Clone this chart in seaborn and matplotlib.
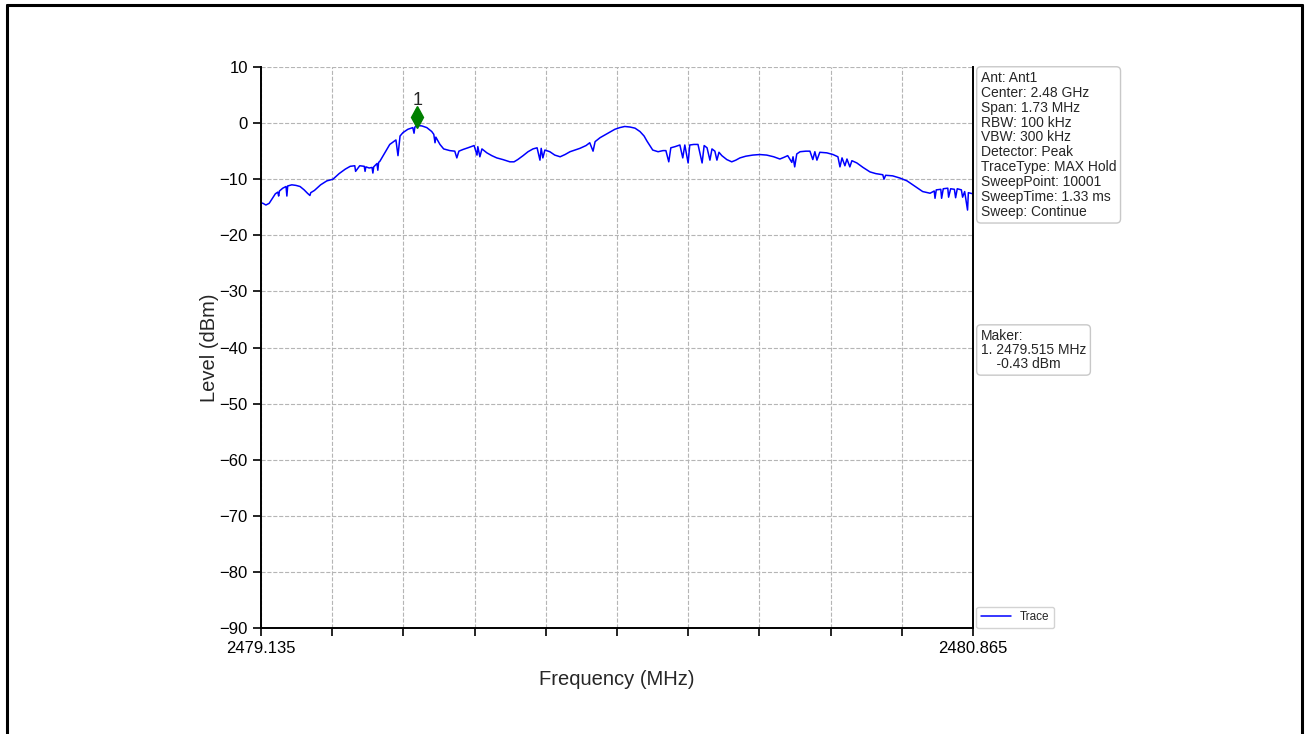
import matplotlib
matplotlib.use("Agg")
import matplotlib.pyplot as plt
import numpy as np
import pandas as pd
import seaborn as sns
from matplotlib.lines import Line2D

# trace (MHz, dBm)
freq_mhz = [
    2479.135, 2479.140, 2479.147, 2479.155, 2479.163, 2479.170, 2479.176, 2479.178, 2479.180,
    2479.188, 2479.196, 2479.198, 2479.200, 2479.210, 2479.220, 2479.230, 2479.240, 2479.248,
    2479.254, 2479.256, 2479.265, 2479.280, 2479.295, 2479.310, 2479.325, 2479.340, 2479.352,
    2479.363, 2479.365, 2479.375, 2479.386, 2479.388, 2479.390, 2479.398, 2479.405, 2479.407,
    2479.409, 2479.417, 2479.419, 2479.421, 2479.424, 2479.436, 2479.448, 2479.463, 2479.468,
    2479.473, 2479.480, 2479.492, 2479.504, 2479.507, 2479.509, 2479.515, 2479.526, 2479.538,
    2479.550, 2479.555, 2479.558, 2479.560, 2479.570, 2479.579, 2479.594, 2479.606, 2479.611,
    2479.616, 2479.626, 2479.638, 2479.653, 2479.660, 2479.662, 2479.667, 2479.672, 2479.684,
    2479.696, 2479.708, 2479.723, 2479.740, 2479.750, 2479.759, 2479.772, 2479.784, 2479.796,
    2479.806, 2479.813, 2479.816, 2479.820, 2479.825, 2479.837, 2479.849, 2479.862, 2479.874,
    2479.886, 2479.898, 2479.910, 2479.925, 2479.934, 2479.942, 2479.947, 2479.959, 2479.971,
    2479.983, 2479.995, 2480.007, 2480.019, 2480.032, 2480.044, 2480.056, 2480.066, 2480.073,
    2480.080, 2480.087, 2480.100, 2480.112, 2480.119, 2480.126, 2480.131, 2480.141, 2480.153,
    2480.160, 2480.165, 2480.173, 2480.177, 2480.187, 2480.197, 2480.207, 2480.212, 2480.219,
    2480.226, 2480.231, 2480.238, 2480.243, 2480.248, 2480.255, 2480.267, 2480.279, 2480.289,
    2480.299, 2480.313, 2480.330, 2480.347, 2480.364, 2480.381, 2480.396, 2480.406, 2480.415,
    2480.425, 2480.428, 2480.432, 2480.437, 2480.445, 2480.459, 2480.469, 2480.476, 2480.481,
    2480.486, 2480.493, 2480.510, 2480.525, 2480.537, 2480.542, 2480.547, 2480.554, 2480.559,
    2480.566, 2480.571, 2480.583, 2480.598, 2480.615, 2480.629, 2480.646, 2480.649, 2480.653,
    2480.670, 2480.688, 2480.705, 2480.719, 2480.731, 2480.743, 2480.761, 2480.771, 2480.773,
    2480.776, 2480.787, 2480.789, 2480.793, 2480.804, 2480.806, 2480.811, 2480.820, 2480.823,
    2480.827, 2480.837, 2480.840, 2480.845, 2480.852, 2480.854, 2480.865,
]
level_dbm = [
    -14.2, -14.3, -14.6, -14.3, -13.4, -12.6, -12.3, -13.0, -12.1,
    -11.6, -11.3, -13.0, -11.2, -11.0, -11.1, -11.3, -11.9, -12.5,
    -12.9, -12.4, -12.0, -11.0, -10.3, -10.0, -9.0, -8.2, -7.7,
    -7.6, -8.6, -7.6, -7.7, -8.6, -7.8, -8.0, -7.9, -8.9,
    -7.8, -7.2, -8.4, -7.0, -6.8, -5.3, -3.8, -3.0, -5.8,
    -2.3, -1.7, -1.1, -0.8, -1.8, -0.7, -0.43, -0.5, -0.8,
    -1.5, -2.0, -3.5, -2.5, -3.8, -4.6, -4.9, -5.0, -6.2,
    -5.0, -4.7, -4.4, -4.0, -5.7, -4.2, -6.0, -4.6, -5.3,
    -5.8, -6.2, -6.5, -6.9, -6.9, -6.5, -5.8, -5.1, -4.6,
    -4.4, -6.6, -4.5, -6.2, -4.8, -5.1, -5.7, -6.0, -5.6,
    -5.1, -4.8, -4.5, -4.0, -3.5, -5.0, -3.3, -2.6, -2.1,
    -1.6, -1.1, -0.8, -0.6, -0.7, -0.9, -1.5, -2.3, -3.2,
    -4.0, -4.8, -5.1, -4.9, -4.9, -6.9, -4.4, -4.2, -3.9,
    -6.2, -3.9, -7.1, -3.9, -3.8, -3.8, -7.1, -4.0, -4.4,
    -6.6, -4.6, -5.0, -6.6, -5.2, -5.8, -6.5, -6.9, -6.6,
    -6.2, -5.9, -5.7, -5.6, -5.7, -6.0, -6.4, -6.1, -5.8,
    -7.0, -6.0, -7.8, -5.5, -5.1, -5.0, -5.0, -6.5, -5.1,
    -6.6, -5.2, -5.3, -5.6, -6.0, -7.8, -6.2, -7.6, -6.4,
    -7.8, -6.7, -7.1, -7.9, -8.7, -9.0, -9.2, -10.0, -9.3,
    -9.4, -9.8, -10.3, -11.0, -11.6, -12.2, -12.5, -12.1, -13.4,
    -11.9, -11.8, -13.4, -11.7, -11.6, -13.2, -11.7, -11.8, -13.3,
    -11.7, -11.9, -13.2, -12.2, -15.5, -12.4, -12.6,
]

marker_freq = 2479.515
marker_level = -0.43

info_lines = [
    "Ant: Ant1",
    "Center: 2.48 GHz",
    "Span: 1.73 MHz",
    "RBW: 100 kHz",
    "VBW: 300 kHz",
    "Detector: Peak",
    "TraceType: MAX Hold",
    "SweepPoint: 10001",
    "SweepTime: 1.33 ms",
    "Sweep: Continue",
]

f_start, f_stop = 2479.135, 2480.865
y_ticks = [10, 0, -10, -20, -30, -40, -50, -60, -70, -80, -90]

df = pd.DataFrame({"freq": freq_mhz, "level": level_dbm})

sns.set_style("ticks")
plt.rcParams["font.family"] = ["Liberation Sans", "DejaVu Sans"]

fig = plt.figure(figsize=(13.08, 7.34), dpi=100)
ax = fig.add_axes([0.1995, 0.1444, 0.5443, 0.7643])

sns.lineplot(data=df, x="freq", y="level", color="blue", linewidth=1.1,
             estimator=None, sort=False, label="Trace", ax=ax)

# peak marker
ax.plot(marker_freq, marker_level + 1.5, marker="d", color="green",
        markersize=11, linestyle="none")
ax.text(marker_freq, marker_level + 2.9, "1", ha="center", va="bottom", fontsize=13)

ax.set_xlim(f_start, f_stop)
ax.set_ylim(-90, 10)
xt = np.linspace(f_start, f_stop, 11)
ax.set_xticks(xt)
ax.set_xticklabels(["2479.135"] + [""] * 9 + ["2480.865"])
ax.set_yticks(y_ticks)
ax.tick_params(axis="both", labelsize=12, direction="out", length=6, width=1.2, colors="black")
ax.grid(True, linestyle="--", color="#b5b5b5", linewidth=0.8)

for side in ["left", "bottom", "right"]:
    ax.spines[side].set_color("black")
    ax.spines[side].set_linewidth(1.4)
ax.spines["top"].set_visible(False)

ax.set_xlabel("Frequency (MHz)", fontsize=14.5, labelpad=10)
ax.set_ylabel("Level (dBm)", fontsize=14.5, labelpad=0)

box = dict(boxstyle="round,pad=0.3", facecolor="white", edgecolor="#c8c8c8", linewidth=1.0)
ax.text(1.0112, 0.993, "\n".join(info_lines), transform=ax.transAxes,
        ha="left", va="top", fontsize=10, linespacing=1.08, bbox=box)
ax.text(1.0112, 0.533, "Maker:\n1. 2479.515 MHz\n    -0.43 dBm", transform=ax.transAxes,
        ha="left", va="top", fontsize=10, linespacing=1.0, bbox=box)

ax.legend(loc="lower left", bbox_to_anchor=(1.005, 0.0), borderaxespad=0.0,
          fontsize=8.5, frameon=True, edgecolor="#c8c8c8", fancybox=True, handlelength=2.5)

# outer frame of the screenshot cell
fig.add_artist(Line2D([7 / 1308, 7 / 1308], [0, 1 - 5 / 734], transform=fig.transFigure,
                      color="black", linewidth=2.2))
fig.add_artist(Line2D([1302 / 1308, 1302 / 1308], [0, 1 - 5 / 734], transform=fig.transFigure,
                      color="black", linewidth=2.2))
fig.add_artist(Line2D([7 / 1308, 1302 / 1308], [1 - 5 / 734, 1 - 5 / 734], transform=fig.transFigure,
                      color="black", linewidth=2.2))

plt.savefig("out.png", dpi=100)
